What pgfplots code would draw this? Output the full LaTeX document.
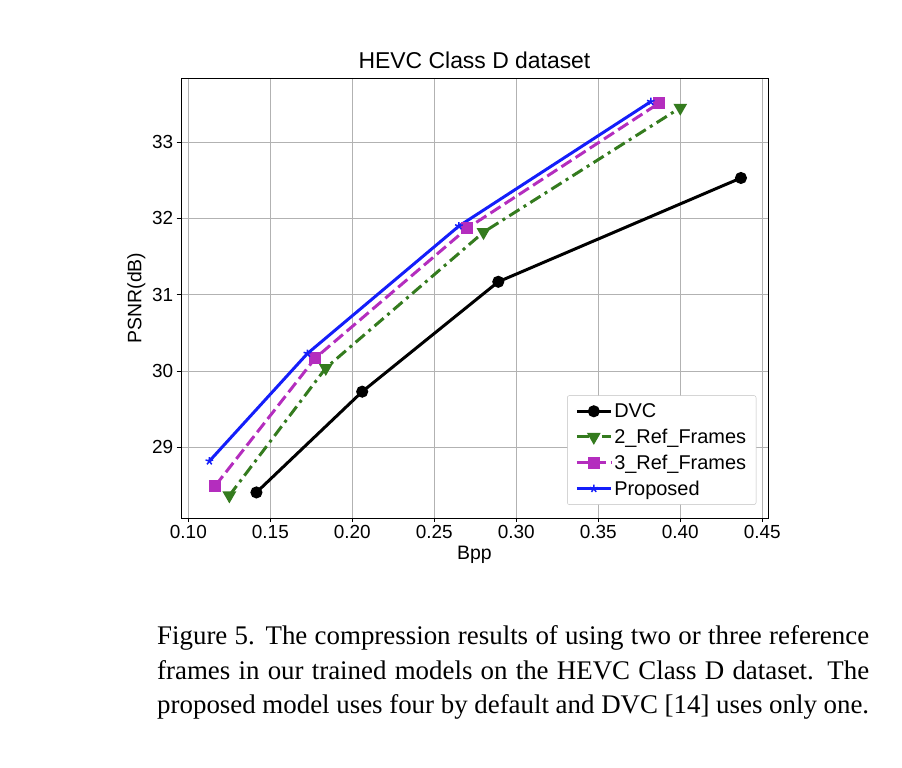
\documentclass[border=0pt]{standalone}
\usepackage{pgfplots}
\pgfplotsset{compat=1.18}
\usepackage{fontspec}
\setmainfont{Liberation Sans}
\newfontfamily\capfont{Liberation Serif}
\begin{document}
\begin{tikzpicture}
\path[use as bounding box] (0,0) rectangle (902bp,768bp);
\begin{axis}[
  at={(181bp,250bp)}, anchor=south west, scale only axis,
  width=587bp, height=440bp,
  xmin=0.0955, xmax=0.4535, ymin=28.075, ymax=33.84,
  xtick={0.10,0.15,0.20,0.25,0.30,0.35,0.40,0.45},
  ytick={29,30,31,32,33},
  xtick pos=bottom, ytick pos=left,
  xticklabel style={/pgf/number format/.cd,fixed,fixed zerofill,precision=2},
  /pgf/number format/assume math mode=true,
  tick label style={font=\fontsize{19}{22}\selectfont},
  label style={font=\fontsize{19.5}{22}\selectfont},
  title style={font=\fontsize{23}{26}\selectfont},
  title={HEVC Class D dataset},
  xlabel={Bpp}, ylabel={PSNR(dB)},
  grid=major, major grid style={gray!60, line width=0.8pt},
  tick align=outside, tick style={black, line width=0.8pt},
  axis line style={line width=0.9pt},
  legend style={at={(0.98,0.03)}, anchor=south east, font=\fontsize{20}{24}\selectfont, row sep=6pt, draw=gray!50, rounded corners=2pt, inner xsep=8pt, inner ysep=6pt},
  legend cell align=left,
  legend image code/.code={\draw[mark repeat=2,mark phase=2,#1] plot coordinates {(0cm,0cm) (0.6cm,0cm) (1.2cm,0cm)};},
]
\addplot[black, line width=3pt, mark=*, mark size=4.5pt] coordinates {(0.1415,28.41) (0.206,29.73) (0.289,31.17) (0.437,32.53)};
\addlegendentry{DVC}
\addplot[color={rgb,255:red,52;green,123;blue,30}, line width=3pt, dash pattern=on 12pt off 5pt on 3pt off 5pt, mark=triangle*, mark options={solid, rotate=180}, mark size=5pt] coordinates {(0.125,28.37) (0.1838,30.04) (0.280,31.82) (0.400,33.45)};
\addlegendentry{2\_Ref\_Frames}
\addplot[color={rgb,255:red,180;green,45;blue,190}, line width=3pt, dash pattern=on 12pt off 5pt, mark=square*, mark options={solid}, mark size=4.5pt] coordinates {(0.1165,28.50) (0.1774,30.17) (0.270,31.87) (0.387,33.51)};
\addlegendentry{3\_Ref\_Frames}
\addplot[color={rgb,255:red,20;green,30;blue,250}, line width=3pt, mark=star, mark options={line width=1.5pt}, mark size=4pt] coordinates {(0.1128,28.82) (0.1726,30.23) (0.265,31.90) (0.382,33.53)};
\addlegendentry{Proposed}
\end{axis}
\node[anchor=north west, text width=712bp, align=justify, inner sep=0pt, font=\capfont\fontsize{27}{35}\selectfont] at (157bp,143bp)
{Figure 5. The compression results of using two or three reference frames in our trained models on the HEVC Class D dataset. The proposed model uses four by default and DVC [14] uses only one.};
\end{tikzpicture}
\end{document}
